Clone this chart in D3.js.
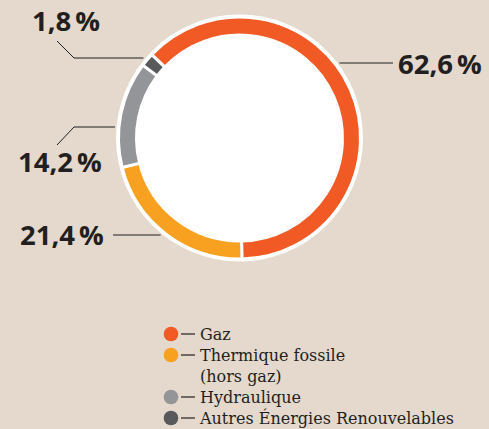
<!DOCTYPE html>
<html>
<head>
<meta charset="utf-8">
<script src="https://cdn.jsdelivr.net/npm/d3@7"></script>
<style>
  html, body { margin: 0; padding: 0; background: #e4d9cc; }
  svg { display: block; }
</style>
</head>
<body>
<svg id="chart" width="489" height="429"></svg>
<script>
// data
var categories = ["Gaz", "Thermique fossile", "Hydraulique", "Autres Énergies Renouvelables"];
var values = [62.6, 21.4, 14.2, 1.8];
var legendLines = [["Gaz"], ["Thermique fossile", "(hors gaz)"], ["Hydraulique"], ["Autres Énergies Renouvelables"]];
var colors = ["#f15a24", "#f8a01f", "#939598", "#58595b"];

var svg = d3.select("#chart");
var cx = 239.5, cy = 138, rOuter = 121, rInner = 103;

var fr = d3.formatLocale({decimal: ",", thousands: " ", grouping: [3], currency: ["", "€"]});
var fmt = fr.format(".1f");

var start = -46.5 * Math.PI / 180;
var pie = d3.pie().sort(null).startAngle(start).endAngle(start + 2 * Math.PI);
var arcs = pie(values);
var arc = d3.arc().innerRadius(rInner).outerRadius(rOuter);

var g = svg.append("g").attr("transform", "translate(" + cx + "," + cy + ")");

// white halo + inner disc
g.append("circle").attr("r", rOuter + 2.5).attr("fill", "#fff");

g.selectAll("path.slice")
  .data(arcs)
  .enter().append("path")
  .attr("class", "slice")
  .attr("d", arc)
  .attr("fill", function(d, i) { return colors[i]; })
  .attr("stroke", "#fff")
  .attr("stroke-width", 3);

// label layout: leader height (relative to centre), elbow and text position
var labelLayout = [
  {y: -75, side: 1, elbow: null, tx: 398, ty: 74},
  {y: 97, side: -1, elbow: null, tx: 20, ty: 245},
  {y: -11, side: -1, elbow: [74, 145 - cy - 18], end: [57, 145 - cy], tx: 18, ty: 172},
  {y: -80, side: -1, elbow: [74, 58 - cy + 17], end: [57, 41 - cy], tx: 32, ty: 31}
];

var rLead = 125;
arcs.forEach(function(d, i) {
  var L = labelLayout[i];
  var x0 = L.side * Math.sqrt(rLead * rLead - L.y * L.y);
  var pts;
  if (L.side > 0) {
    pts = [[x0, L.y], [393 - cx, L.y]];
  } else if (!L.elbow) {
    pts = [[x0, L.y], [113 - cx, L.y]];
  } else {
    pts = [[x0, L.y], [L.elbow[0] - cx, L.y], [L.end[0] - cx, L.end[1]]];
  }
  g.append("path")
    .attr("d", d3.line()(pts))
    .attr("fill", "none")
    .attr("stroke", "#231f20")
    .attr("stroke-width", 1);

  var t = svg.append("text")
    .attr("x", L.tx)
    .attr("y", L.ty)
    .attr("font-family", "'Open Sans', sans-serif")
    .attr("font-weight", 700)
    .attr("font-size", 27.5)
    .attr("fill", "#231f20")
    .text(fmt(values[i]));
  t.append("tspan").attr("dx", 4).text("%");
});

// legend
var legendY = [334, 355, 397, 418];
var lg = svg.append("g").attr("class", "legend");
categories.forEach(function(c, i) {
  var y = legendY[i];
  lg.append("circle").attr("cx", 171).attr("cy", y).attr("r", 7.3).attr("fill", colors[i]);
  lg.append("line").attr("x1", 181).attr("x2", 195).attr("y1", y).attr("y2", y)
    .attr("stroke", "#231f20").attr("stroke-width", 1.2);
  legendLines[i].forEach(function(s, j) {
    lg.append("text")
      .attr("x", 200)
      .attr("y", y + 6 + j * 20.8)
      .attr("font-family", "'DejaVu Serif', serif")
      .attr("font-size", 16)
      .attr("fill", "#231f20")
      .text(s);
  });
});
</script>
</body>
</html>
